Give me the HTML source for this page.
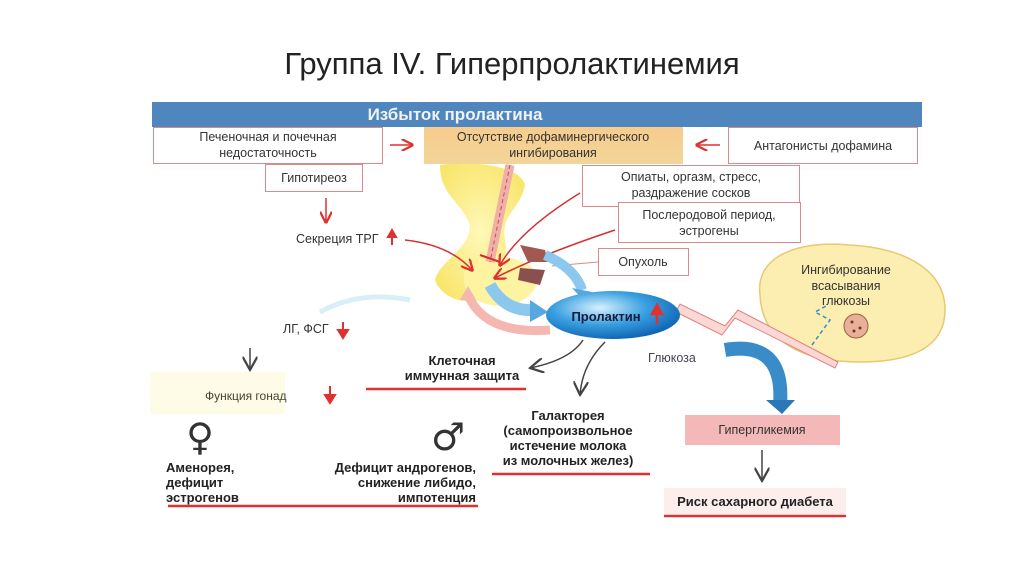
<!DOCTYPE html>
<html><head><meta charset="utf-8"><style>
body{margin:0;background:#fff}
svg{display:block}
text{font-family:"Liberation Sans Narrow","Liberation Sans","DejaVu Sans Condensed",sans-serif}
</style></head><body>
<svg width="1024" height="574" viewBox="0 0 1024 574" xmlns="http://www.w3.org/2000/svg">
<defs>
<linearGradient id="og" x1="0" y1="0" x2="0" y2="1"><stop offset="0" stop-color="#f7cc8c"/><stop offset="1" stop-color="#f2d59a"/></linearGradient>
<radialGradient id="bg" cx="0.4" cy="0.35" r="0.7"><stop offset="0" stop-color="#d8f0ff"/><stop offset="0.5" stop-color="#3aa0e0"/><stop offset="1" stop-color="#0b5fb0"/></radialGradient>
<radialGradient id="yg" cx="0.5" cy="0.5" r="0.6"><stop offset="0" stop-color="#fff7b0"/><stop offset="1" stop-color="#f8e25a"/></radialGradient>
<marker id="ar" markerWidth="8" markerHeight="8" refX="7" refY="4" orient="auto"><path d="M0,0 L8,4 L0,8" fill="none" stroke="#e03030" stroke-width="1.5"/></marker>
<marker id="ak" markerWidth="10" markerHeight="10" refX="9" refY="5" orient="auto"><path d="M0,0 L9,5 L0,10" fill="none" stroke="#444" stroke-width="1.5"/></marker>
</defs>
<text x="512" y="74" font-size="31" text-anchor="middle" fill="#222" style="font-family:'Liberation Sans',sans-serif">Группа IV. Гиперпролактинемия</text>

<!-- yellow gland -->
<path d="M440,165 C470,160 520,165 525,185 C520,210 500,215 505,240 C510,260 495,285 480,300 C460,305 440,295 435,280 C440,260 470,250 470,225 C460,200 440,195 440,165Z" fill="url(#yg)" opacity="0.9"/>
<path d="M465,270 C480,250 520,255 535,270 C545,290 520,310 490,305 C470,300 460,290 465,270Z" fill="#fdf3a0"/>
<!-- blue header -->
<rect x="152" y="102" width="770" height="25" fill="#4f86bd"/>
<text x="455" y="120" font-size="17" font-weight="bold" text-anchor="middle" fill="#f2f2f2">Избыток пролактина</text>

<!-- boxes row 1 -->
<rect x="153.5" y="127.5" width="229" height="36" fill="#fff" stroke="#d98a8a"/>
<text x="268" y="141" font-size="12.5" text-anchor="middle" fill="#333">Печеночная и почечная</text>
<text x="268" y="157" font-size="12.5" text-anchor="middle" fill="#333">недостаточность</text>
<line x1="390" y1="145" x2="412" y2="145" stroke="#e03030" stroke-width="1.5" marker-end="url(#ar)"/>
<rect x="424" y="127" width="259" height="37" fill="url(#og)"/>
<text x="553" y="141" font-size="12.5" text-anchor="middle" fill="#333">Отсутствие дофаминергического</text>
<text x="553" y="157" font-size="12.5" text-anchor="middle" fill="#333">ингибирования</text>
<line x1="720" y1="145" x2="697" y2="145" stroke="#e03030" stroke-width="1.5" marker-end="url(#ar)"/>
<rect x="728.5" y="127.5" width="189" height="36" fill="#fff" stroke="#d98a8a"/>
<text x="823" y="150" font-size="12.5" text-anchor="middle" fill="#333">Антагонисты дофамина</text>

<rect x="265.5" y="164.5" width="97" height="27" fill="#fff" stroke="#d98a8a"/>
<text x="314" y="182" font-size="12.5" text-anchor="middle" fill="#333">Гипотиреоз</text>
<line x1="326" y1="198" x2="326" y2="222" stroke="#e03030" stroke-width="1.5" marker-end="url(#ar)"/>
<text x="296" y="243" font-size="12.5" fill="#333">Секреция ТРГ</text>
<path d="M392,245 V233 M388,237 L392,230 L396,237Z" stroke="#e03030" stroke-width="2" fill="#e03030"/>

<!-- dashed pink stalk -->
<path d="M510,165 L490,262" stroke="#f0b0a8" stroke-width="9"/>
<path d="M510,165 L490,262" stroke="#c05050" stroke-width="1" stroke-dasharray="4,3"/>
<!-- red arrows into gland -->
<path d="M405,240 Q450,245 472,270" fill="none" stroke="#d83030" stroke-width="1.5" marker-end="url(#ar)"/>
<path d="M580,193 Q520,230 500,265" fill="none" stroke="#d83030" stroke-width="1.5" marker-end="url(#ar)"/>
<path d="M615,230 Q540,255 495,278" fill="none" stroke="#d83030" stroke-width="1.5" marker-end="url(#ar)"/>
<path d="M480,255 L500,262" stroke="#d83030" stroke-width="2"/>
<!-- tumour -->
<path d="M520,245 L545,250 L548,262 L528,262Z" fill="#a05850"/>
<path d="M520,268 L545,270 L540,285 L518,280Z" fill="#8a5050"/>

<rect x="582.5" y="165.5" width="217" height="41" fill="#fff" stroke="#d98a8a"/>
<text x="691" y="181" font-size="12.5" text-anchor="middle" fill="#333">Опиаты, оргазм, стресс,</text>
<text x="691" y="197" font-size="12.5" text-anchor="middle" fill="#333">раздражение сосков</text>
<rect x="618.5" y="202.5" width="182" height="40" fill="#fff" stroke="#d98a8a"/>
<text x="709" y="219" font-size="12.5" text-anchor="middle" fill="#333">Послеродовой период,</text>
<text x="709" y="235" font-size="12.5" text-anchor="middle" fill="#333">эстрогены</text>
<rect x="598.5" y="248.5" width="90" height="27" fill="#fff" stroke="#d98a8a"/>
<text x="643" y="266" font-size="12.5" text-anchor="middle" fill="#333">Опухоль</text>
<line x1="598" y1="262" x2="552" y2="266" stroke="#d98a8a"/>

<!-- blue arrows -->
<path d="M545,255 Q575,268 582,290" fill="none" stroke="#8cc8ee" stroke-width="10"/>
<path d="M572,288 L592,292 L585,302Z" fill="#58a8e0"/>
<path d="M490,285 Q505,312 535,310" fill="none" stroke="#8cc8ee" stroke-width="12"/>
<path d="M530,300 L548,312 L530,322Z" fill="#58a8e0"/>
<path d="M550,330 Q485,335 468,295" fill="none" stroke="#f4b8b0" stroke-width="9"/>
<path d="M460,300 L468,286 L476,300Z" fill="#f4b8b0"/>
<path d="M410,300 Q360,290 320,312" fill="none" stroke="#d8eef8" stroke-width="5"/>

<!-- cell -->
<path d="M760,295 C755,255 800,240 850,245 C905,248 945,270 945,310 C945,345 915,362 860,362 C800,362 762,340 760,295Z" fill="#fbeeb0" stroke="#e8c870" stroke-width="1.5"/>
<text x="846" y="274" font-size="12.5" text-anchor="middle" fill="#333">Ингибирование</text>
<text x="846" y="290" font-size="12.5" text-anchor="middle" fill="#333">всасывания</text>
<text x="846" y="305" font-size="12.5" text-anchor="middle" fill="#333">глюкозы</text>
<circle cx="856" cy="326" r="12" fill="#e8b098" stroke="#a06040"/>
<circle cx="852" cy="322" r="1.5" fill="#803020"/><circle cx="860" cy="328" r="1.5" fill="#803020"/><circle cx="854" cy="331" r="1.5" fill="#803020"/>
<path d="M812,345 L830,320 L815,312 L828,305" fill="none" stroke="#3a8cc8" stroke-width="1.5" stroke-dasharray="4,3"/>

<!-- zigzag -->
<path d="M676,312 L722,335 L735,318 L835,368 L838,362 L738,310 L725,326 L680,304Z" fill="#fbd8d4" stroke="#e08080"/>
<!-- prolactin ellipse -->
<ellipse cx="613" cy="315" rx="67" ry="24" fill="url(#bg)"/>
<text x="606" y="321" font-size="13" font-weight="bold" text-anchor="middle" fill="#1a1a3a">Пролактин</text>
<path d="M657,324 V312 M652,314 L657,305 L662,314Z" stroke="#e03030" stroke-width="2.5" fill="#e03030"/>

<text x="648" y="362" font-size="12.5" fill="#445">Глюкоза</text>
<path d="M725,350 Q785,340 780,405" fill="none" stroke="#3a8cc8" stroke-width="14"/>
<path d="M766,400 L795,400 L782,414Z" fill="#2a78b8"/>

<!-- left side -->
<text x="283" y="333" font-size="12.5" fill="#333">ЛГ, ФСГ</text>
<path d="M343,322 V333 M338,330 L343,338 L348,330Z" stroke="#e03030" stroke-width="2" fill="#e03030"/>
<line x1="250" y1="348" x2="250" y2="370" stroke="#444" stroke-width="1.5" marker-end="url(#ak)"/>
<rect x="150" y="372" width="135" height="42" fill="#fefbe6"/>
<text x="205" y="400" font-size="12" fill="#443">Функция гонад</text>
<path d="M330,386 V398 M325,395 L330,403 L335,395Z" stroke="#e03030" stroke-width="2" fill="#e03030"/>
<text x="200" y="450" font-size="38" text-anchor="middle" fill="#333" style="font-family:'DejaVu Sans',sans-serif">♀</text>
<text x="448" y="450" font-size="38" text-anchor="middle" fill="#333" style="font-family:'DejaVu Sans',sans-serif">♂</text>
<g font-size="13" font-weight="bold" fill="#222">
<text x="166" y="472">Аменорея,</text>
<text x="166" y="487">дефицит</text>
<text x="166" y="502">эстрогенов</text>
<text x="476" y="472" text-anchor="end">Дефицит андрогенов,</text>
<text x="476" y="487" text-anchor="end">снижение либидо,</text>
<text x="476" y="502" text-anchor="end">импотенция</text>
<text x="462" y="365" text-anchor="middle">Клеточная</text>
<text x="462" y="380" text-anchor="middle">иммунная защита</text>
<text x="568" y="420" text-anchor="middle">Галакторея</text>
<text x="568" y="435" text-anchor="middle">(самопроизвольное</text>
<text x="568" y="450" text-anchor="middle">истечение молока</text>
<text x="568" y="465" text-anchor="middle">из молочных желез)</text>
</g>
<line x1="168" y1="506" x2="478" y2="506" stroke="#e03030" stroke-width="2.5"/>
<line x1="366" y1="389" x2="526" y2="389" stroke="#e03030" stroke-width="2.5"/>
<line x1="492" y1="474" x2="650" y2="474" stroke="#e03030" stroke-width="2.5"/>
<path d="M583,340 Q570,360 530,368" fill="none" stroke="#444" stroke-width="1.5" marker-end="url(#ak)"/>
<path d="M605,342 Q582,365 580,395" fill="none" stroke="#444" stroke-width="1.5" marker-end="url(#ak)"/>

<rect x="685" y="415" width="155" height="30" fill="#f5b8b8"/>
<text x="762" y="434" font-size="12.5" text-anchor="middle" fill="#333">Гипергликемия</text>
<line x1="762" y1="450" x2="762" y2="481" stroke="#444" stroke-width="1.5" marker-end="url(#ak)"/>
<rect x="664" y="488" width="182" height="26" fill="#fdeeee"/>
<text x="755" y="506" font-size="13" font-weight="bold" text-anchor="middle" fill="#222">Риск сахарного диабета</text>
<line x1="664" y1="516" x2="846" y2="516" stroke="#e03030" stroke-width="2.5"/>
</svg>
</body></html>
